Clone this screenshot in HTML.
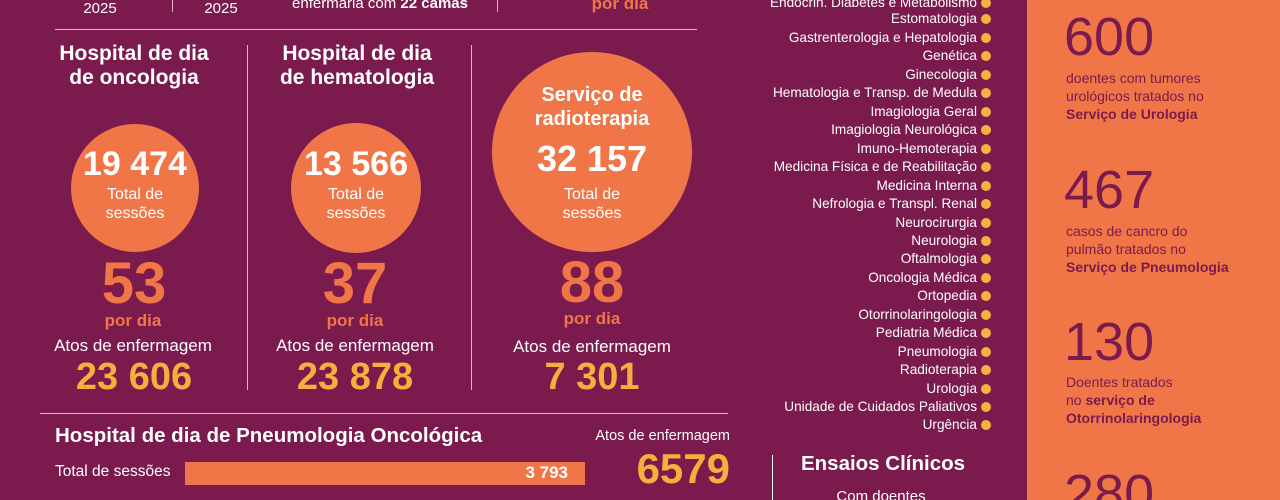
<!DOCTYPE html>
<html><head><meta charset="utf-8"><style>
*{margin:0;padding:0;box-sizing:border-box}
html{width:1280px;height:500px;overflow:hidden}
body{width:1280px;height:500px;overflow:hidden;background:#7b1a4c;font-family:"Liberation Sans",sans-serif;color:#fff;position:relative}
.a{position:absolute;white-space:nowrap}
.c{transform:translateX(-50%);text-align:center}
.b{font-weight:bold}
.circ{position:absolute;border-radius:50%;background:#f07648}
.vl{position:absolute;width:1px;background:#d9b6c8}
.hl{position:absolute;height:1px;background:#d9b6c8}
.or{color:#f07648}.ye{color:#f8ad3d}
.li{position:absolute;right:303px;font-size:13.6px;line-height:16px;white-space:nowrap}
.li:after{content:"";position:absolute;right:-14px;top:3px;width:10px;height:10px;border-radius:50%;background:#f6b23e}
.op{position:absolute;left:1027px;top:0;width:253px;height:500px;background:#f07648;overflow:hidden}
.pn{position:absolute;left:1064px;font-size:54px;color:#7b1a4c;line-height:54px}
.pt{position:absolute;left:1066px;font-size:14px;color:#7b1a4c;line-height:18px}
</style></head><body>
<div class="a c" style="left:100px;top:0;font-size:15px">2025</div>
<div class="a c" style="left:221px;top:0;font-size:15px">2025</div>
<div class="vl" style="left:172px;top:0;height:12px"></div>
<div class="a c" style="left:380px;top:-5px;font-size:15px">enfermaria com <b>22 camas</b></div>
<div class="vl" style="left:497px;top:0;height:12px"></div>
<div class="a c b or" style="left:620px;top:-6px;font-size:17px">por dia</div>
<div class="hl" style="left:55px;top:29px;width:642px"></div>

<div class="vl" style="left:247px;top:45px;height:345px"></div>
<div class="vl" style="left:471px;top:45px;height:345px"></div>

<div class="a c b" style="left:134px;top:42px;font-size:21px;line-height:24px">Hospital de dia<br>de oncologia</div>
<div class="a c b" style="left:357px;top:42px;font-size:21px;line-height:24px">Hospital de dia<br>de hematologia</div>

<div class="circ" style="left:71px;top:124px;width:128px;height:128px"></div>
<div class="a c b" style="left:135px;top:145px;font-size:34px">19 474</div>
<div class="a c" style="left:135px;top:185px;font-size:16px;line-height:19px">Total de<br>sessões</div>

<div class="circ" style="left:291px;top:123px;width:130px;height:130px"></div>
<div class="a c b" style="left:356px;top:145px;font-size:34px">13 566</div>
<div class="a c" style="left:356px;top:185px;font-size:16px;line-height:19px">Total de<br>sessões</div>

<div class="circ" style="left:492px;top:52px;width:200px;height:200px"></div>
<div class="a c b" style="left:592px;top:83px;font-size:20px;line-height:24px">Serviço de<br>radioterapia</div>
<div class="a c b" style="left:592px;top:138px;font-size:36px">32 157</div>
<div class="a c" style="left:592px;top:185px;font-size:16px;line-height:19px">Total de<br>sessões</div>

<div class="a c b or" style="left:134px;top:254px;font-size:58px;line-height:60px">53</div>
<div class="a c b or" style="left:133px;top:311px;font-size:17px">por dia</div>
<div class="a c" style="left:133px;top:336px;font-size:17px">Atos de enfermagem</div>
<div class="a c b ye" style="left:134px;top:356px;font-size:38px">23 606</div>

<div class="a c b or" style="left:355px;top:254px;font-size:58px;line-height:60px">37</div>
<div class="a c b or" style="left:355px;top:311px;font-size:17px">por dia</div>
<div class="a c" style="left:355px;top:336px;font-size:17px">Atos de enfermagem</div>
<div class="a c b ye" style="left:355px;top:356px;font-size:38px">23 878</div>

<div class="a c b or" style="left:592px;top:253px;font-size:58px;line-height:60px">88</div>
<div class="a c b or" style="left:592px;top:309px;font-size:17px">por dia</div>
<div class="a c" style="left:592px;top:337px;font-size:17px">Atos de enfermagem</div>
<div class="a c b ye" style="left:592px;top:356px;font-size:38px">7 301</div>

<div class="hl" style="left:40px;top:413px;width:688px"></div>
<div class="a b" style="left:55px;top:424px;font-size:20.5px">Hospital de dia de Pneumologia Oncológica</div>
<div class="a" style="right:550px;top:428px;font-size:14.5px">Atos de enfermagem</div>
<div class="a" style="left:55px;top:463px;font-size:15.5px">Total de sessões</div>
<div class="a" style="left:185px;top:462px;width:400px;height:23px;background:#f07648"></div>
<div class="a b" style="right:712px;top:463px;font-size:17px">3 793</div>
<div class="a b ye" style="right:550px;top:446px;font-size:42px;line-height:46px">6579</div>

<div class="li" style="top:-5px">Endocrin.  Diabetes e Metabolismo</div>
<div class="li" style="top:11px">Estomatologia</div>
<div class="li" style="top:30px">Gastrenterologia e Hepatologia</div>
<div class="li" style="top:48px">Genética</div>
<div class="li" style="top:67px">Ginecologia</div>
<div class="li" style="top:85px">Hematologia e Transp. de Medula</div>
<div class="li" style="top:104px">Imagiologia Geral</div>
<div class="li" style="top:122px">Imagiologia Neurológica</div>
<div class="li" style="top:141px">Imuno-Hemoterapia</div>
<div class="li" style="top:159px">Medicina Física e de Reabilitação</div>
<div class="li" style="top:178px">Medicina Interna</div>
<div class="li" style="top:196px">Nefrologia e Transpl. Renal</div>
<div class="li" style="top:215px">Neurocirurgia</div>
<div class="li" style="top:233px">Neurologia</div>
<div class="li" style="top:251px">Oftalmologia</div>
<div class="li" style="top:270px">Oncologia Médica</div>
<div class="li" style="top:288px">Ortopedia</div>
<div class="li" style="top:307px">Otorrinolaringologia</div>
<div class="li" style="top:325px">Pediatria Médica</div>
<div class="li" style="top:344px">Pneumologia</div>
<div class="li" style="top:362px">Radioterapia</div>
<div class="li" style="top:381px">Urologia</div>
<div class="li" style="top:399px">Unidade de Cuidados Paliativos</div>
<div class="li" style="top:417px">Urgência</div>

<div class="vl" style="left:772px;top:455px;height:45px;background:#fff"></div>
<div class="a c b" style="left:883px;top:452px;font-size:20.5px">Ensaios Clínicos</div>
<div class="a c" style="left:881px;top:488px;font-size:15px">Com doentes</div>

<div class="op">
<div class="pn" style="left:37px;top:10px">600</div>
<div class="pt" style="left:39px;top:69px">doentes com tumores<br>urológicos tratados no<br><b>Serviço de Urologia</b></div>
<div class="pn" style="left:37px;top:163px">467</div>
<div class="pt" style="left:39px;top:222px">casos de cancro do<br>pulmão tratados no<br><b>Serviço de Pneumologia</b></div>
<div class="pn" style="left:37px;top:315px">130</div>
<div class="pt" style="left:39px;top:373px">Doentes tratados<br>no <b>serviço de<br>Otorrinolaringologia</b></div>
<div class="pn" style="left:37px;top:467px">280</div>
</div>
</body></html>
